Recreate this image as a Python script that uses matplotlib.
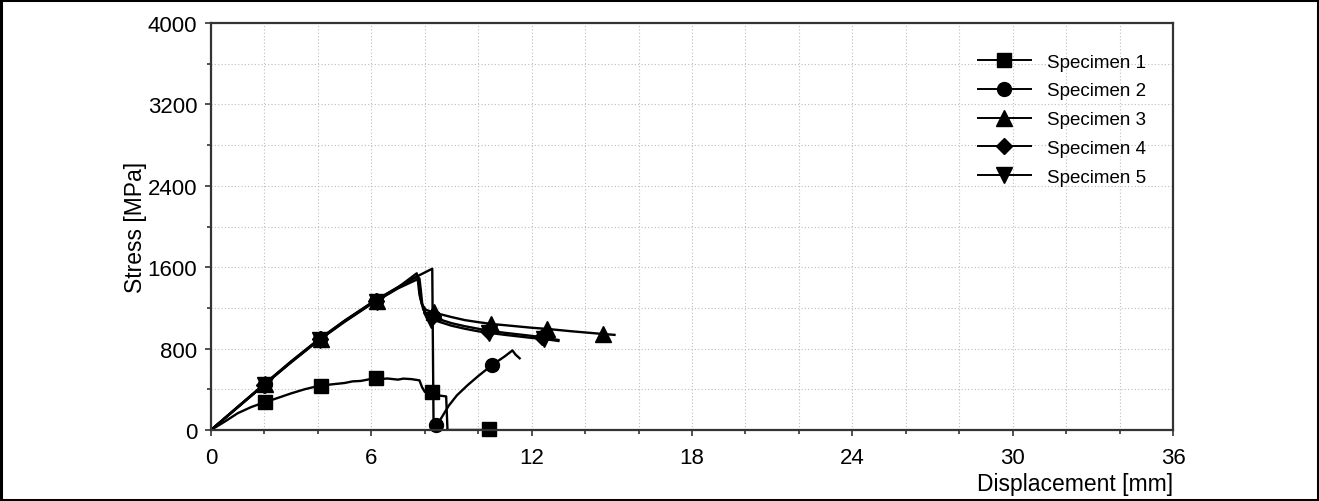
import matplotlib
matplotlib.use('Agg')
import matplotlib.pyplot as plt
from matplotlib.lines import Line2D
from matplotlib.patches import Rectangle
from matplotlib.ticker import MultipleLocator

plt.rcParams['font.family'] = ['Liberation Sans', 'DejaVu Sans']

# curves: displacement [mm], stress [MPa]
s1_x = [0, 0.5, 1.0, 1.5, 2.0, 2.5, 3.0, 3.5, 4.0, 4.5, 5.0, 5.3, 5.6, 6.0, 6.3, 6.6,
        7.0, 7.2, 7.5, 7.8, 7.9, 8.0, 8.3, 8.5, 8.8, 8.85, 10.6]
s1_y = [0, 80, 165, 225, 272, 315, 360, 400, 432, 448, 462, 478, 482, 502, 500, 506,
        495, 505, 500, 488, 420, 375, 370, 340, 330, 0, 0]
s1_mx = [2.01, 4.13, 6.18, 8.27, 10.4]
s1_my = [272, 435, 508, 370, 12]

s2_x = [0, 1, 2, 3, 4, 5, 6, 7, 7.75, 8.28, 8.33, 8.4, 8.6, 8.9, 9.2, 9.6, 10.0, 10.5,
        11.0, 11.28, 11.4, 11.55]
s2_y = [0, 228, 452, 675, 885, 1075, 1250, 1405, 1515, 1585, 0, 30, 110, 240, 340, 440,
        530, 635, 725, 782, 740, 705]
s2_mx = [2.02, 4.08, 6.18, 8.42, 10.5]
s2_my = [452, 893, 1271, 49, 637]

s3_x = [0, 1, 2, 3, 4, 5, 6, 7, 7.7, 7.75, 7.8, 7.9, 8.05, 8.4, 9.0, 9.5, 10.0, 10.5,
        11.0, 12.0, 12.6, 13.5, 14.7, 15.1]
s3_y = [0, 226, 452, 672, 882, 1072, 1247, 1402, 1540, 1450, 1330, 1230, 1180, 1150,
        1110, 1080, 1060, 1042, 1030, 1005, 993, 970, 943, 935]
s3_mx = [2.03, 4.1, 6.2, 8.36, 10.47, 12.59, 14.66]
s3_my = [452, 890, 1268, 1160, 1042, 993, 943]

s4_x = [0, 1, 2, 3, 4, 5, 6, 7, 7.75, 7.8, 7.85, 7.95, 8.1, 8.4, 9.0, 9.5, 10.0, 10.4,
        11.0, 12.0, 12.4, 13.0]
s4_y = [0, 224, 448, 668, 878, 1068, 1242, 1398, 1515, 1400, 1280, 1180, 1130, 1100,
        1050, 1020, 995, 975, 955, 925, 911, 885]
s4_mx = [2.0, 4.07, 6.18, 8.3, 10.35, 12.4]
s4_my = [445, 890, 1265, 1120, 975, 911]

s5_x = [0, 1, 2, 3, 4, 5, 6, 7, 7.8, 7.85, 7.9, 8.0, 8.15, 8.4, 9.0, 9.5, 10.0, 10.4,
        11.0, 12.0, 12.45, 13.0]
s5_y = [0, 222, 446, 665, 875, 1063, 1238, 1392, 1490, 1380, 1250, 1150, 1100, 1075,
        1025, 995, 970, 955, 935, 905, 895, 875]
s5_mx = [2.02, 4.08, 6.2, 8.25, 10.4, 12.45]
s5_my = [440, 885, 1262, 1085, 955, 890]

labels = ['Specimen 1', 'Specimen 2', 'Specimen 3', 'Specimen 4', 'Specimen 5']
markers = ['s', 'o', '^', 'D', 'v']
msizes = [9.5, 10, 11, 8.5, 11]

curves = [(s1_x, s1_y, s1_mx, s1_my), (s2_x, s2_y, s2_mx, s2_my),
          (s3_x, s3_y, s3_mx, s3_my), (s4_x, s4_y, s4_mx, s4_my),
          (s5_x, s5_y, s5_mx, s5_my)]

fig = plt.figure(figsize=(13.19, 5.02), dpi=100)
ax = fig.add_axes([211 / 1319, 1 - 431 / 502, (1173 - 211) / 1319, (431 - 24) / 502])

ax.set_axisbelow(True)
ax.grid(True, which='both', linestyle=(0, (1, 2)), color='#bdbdbd', linewidth=0.8)

for (x, y, mx, my), m, ms in zip(curves, markers, msizes):
    ax.plot(x, y, color='black', linewidth=1.7)
    ax.plot(mx, my, linestyle='none', marker=m, markersize=ms, color='black', clip_on=False)

ax.set_xlim(0, 36)
ax.set_ylim(0, 4000)
ax.xaxis.set_major_locator(MultipleLocator(6))
ax.xaxis.set_minor_locator(MultipleLocator(2))
ax.yaxis.set_major_locator(MultipleLocator(800))
ax.yaxis.set_minor_locator(MultipleLocator(400))
ax.tick_params(which='major', direction='out', length=4, width=1.2, labelsize=16,
               color='#333333')
ax.tick_params(which='minor', direction='out', length=3, width=1.2, color='#333333')
ax.tick_params(axis='x', pad=8)
ax.tick_params(axis='y', pad=6)
for sp in ax.spines.values():
    sp.set_linewidth(1.6)
    sp.set_color('#333333')

ax.set_xlabel('Displacement [mm]', fontsize=16.5, loc='right', labelpad=3)
ax.set_ylabel('Stress [MPa]', fontsize=16.5, labelpad=0)

handles = [Line2D([], [], color='black', linewidth=1.4, marker=m, markersize=ms)
           for m, ms in zip(markers, msizes)]
ax.legend(handles, labels, loc='upper left', bbox_to_anchor=(0.797, 0.925),
          frameon=False, fontsize=13.5, handlelength=2.85, handletextpad=0.85,
          labelspacing=0.62, borderaxespad=0, borderpad=0)

fig.patches.append(Rectangle((0.001, 0.002), 0.998, 0.996, transform=fig.transFigure,
                             fill=False, edgecolor='black', linewidth=2.2))

fig.savefig('out.png', dpi=100)
